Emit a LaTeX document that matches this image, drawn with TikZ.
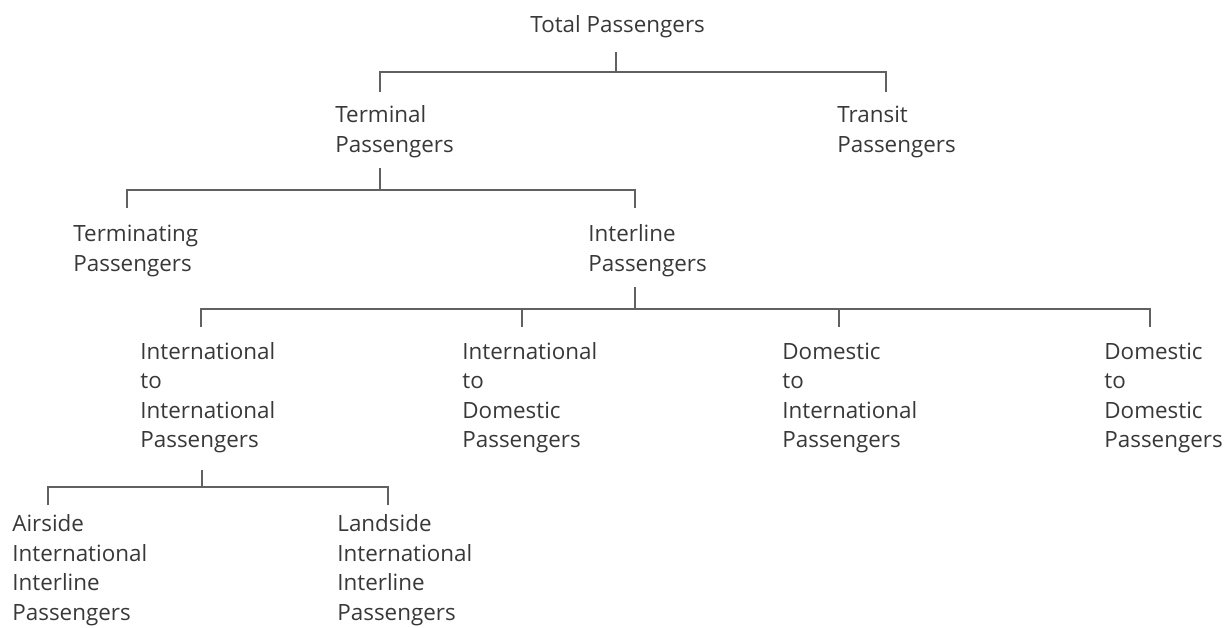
\documentclass[tikz,border=0pt]{standalone}
\usepackage{fontspec}
\setmainfont{Open Sans}
\usepackage{tikz}
\colorlet{inkdark}{black!78}
\colorlet{rulegray}{black!62}

\begin{document}
\begin{tikzpicture}[x=0.5pt, y=0.5pt,
  cat/.style={anchor=base west, align=left, inner sep=0pt, text=inkdark,
    font=\fontsize{11.2}{14.75}\selectfont},
  branch/.style={rulegray, line width=0.55pt}]
  \useasboundingbox (0,0) rectangle (1225,627);
% text placed by the baseline of its last line
\node[cat] (total) at (530,594) {Total Passengers};
\node[cat] (terminal) at (335,474.5) {Terminal\\Passengers};
\node[cat] (transit) at (837,474.5) {Transit\\Passengers};
\node[cat] (terminating) at (73,355.5) {Terminating\\Passengers};
\node[cat] (interline) at (588,355.5) {Interline\\Passengers};
\node[cat] (intint) at (140,179.5) {International\\to\\International\\Passengers};
\node[cat] (intdom) at (462,179.5) {International\\to\\Domestic\\Passengers};
\node[cat] (domint) at (782,179.5) {Domestic\\to\\International\\Passengers};
\node[cat] (domdom) at (1104,179.5) {Domestic\\to\\Domestic\\Passengers};
\node[cat] (airside) at (12,7) {Airside\\International\\Interline\\Passengers};
\node[cat] (landside) at (337,7) {Landside\\International\\Interline\\Passengers};
% stems and tick ends
\coordinate (total-out) at (616,575);
\coordinate (terminal-in) at (380,535);
\coordinate (transit-in) at (886,535);
\coordinate (terminal-out) at (380,459);
\coordinate (terminating-in) at (127,419);
\coordinate (interline-in) at (635,419);
\coordinate (interline-out) at (635,340);
\coordinate (intint-in) at (201,300);
\coordinate (intdom-in) at (522,300);
\coordinate (domint-in) at (839,300);
\coordinate (domdom-in) at (1150,300);
\coordinate (intint-out) at (202,157);
\coordinate (airside-in) at (48,122);
\coordinate (landside-in) at (388,122);
% brackets
\draw[branch] (total-out) -- ++(0,-20) coordinate (bar1);
\draw[branch] (terminal-in) |- (bar1) -| (transit-in);
\draw[branch] (terminal-out) -- ++(0,-22) coordinate (bar2);
\draw[branch] (terminating-in) |- (bar2) -| (interline-in);
\draw[branch] (interline-out) -- ++(0,-22) coordinate (bar3);
\draw[branch] (intint-in) |- (bar3) -| (domdom-in);
\draw[branch] (intdom-in) -- (intdom-in |- bar3);
\draw[branch] (domint-in) -- (domint-in |- bar3);
\draw[branch] (intint-out) -- ++(0,-17) coordinate (bar4);
\draw[branch] (airside-in) |- (bar4) -| (landside-in);

\end{tikzpicture}
\end{document}
